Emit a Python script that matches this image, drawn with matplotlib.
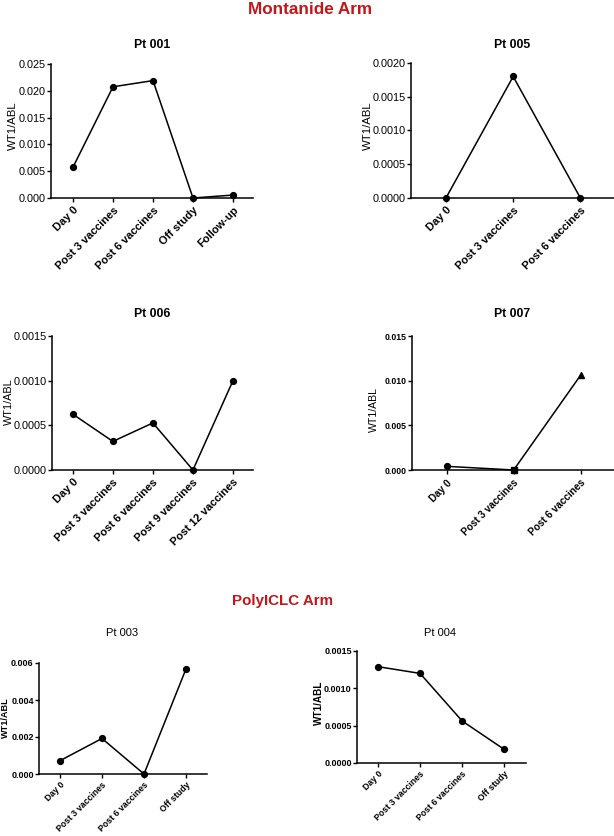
import matplotlib
matplotlib.use("Agg")
import matplotlib.pyplot as plt
from matplotlib.ticker import FixedLocator

plt.rcParams['font.family'] = ['Liberation Sans', 'DejaVu Sans']

W, H = 614, 836

# ---------------- data ----------------
pt001_labels = ["Day 0", "Post 3 vaccines", "Post 6 vaccines", "Off study", "Follow-up"]
pt001_values = [0.00575, 0.02075, 0.0219, 0.0, 0.00055]
pt001_yticks = [0.000, 0.005, 0.010, 0.015, 0.020, 0.025]

pt005_labels = ["Day 0", "Post 3 vaccines", "Post 6 vaccines"]
pt005_values = [0.0, 0.0018, 0.0]
pt005_yticks = [0.0000, 0.0005, 0.0010, 0.0015, 0.0020]

pt006_labels = ["Day 0", "Post 3 vaccines", "Post 6 vaccines", "Post 9 vaccines", "Post 12 vaccines"]
pt006_values = [0.000625, 0.00032, 0.000527, 0.0, 0.0010]
pt006_yticks = [0.0000, 0.0005, 0.0010, 0.0015]

pt007_labels = ["Day 0", "Post 3 vaccines", "Post 6 vaccines"]
pt007_values = [0.00041, 0.0, 0.0106]
pt007_yticks = [0.000, 0.005, 0.010, 0.015]

pt003_labels = ["Day 0", "Post 3 vaccines", "Post 6 vaccines", "Off study"]
pt003_values = [0.00072, 0.00192, 0.0, 0.00568]
pt003_yticks = [0.000, 0.002, 0.004, 0.006]

pt004_labels = ["Day 0", "Post 3 vaccines", "Post 6 vaccines", "Off study"]
pt004_values = [0.00129, 0.0012, 0.000563, 0.000183]
pt004_yticks = [0.0000, 0.0005, 0.0010, 0.0015]

fig = plt.figure(figsize=(W / 100, H / 100), dpi=100)


def px_axes(x0, x1, y0, y1):
    return fig.add_axes([x0 / W, 1 - y1 / H, (x1 - x0) / W, (y1 - y0) / H])


def ftext(x, y, s, **kw):
    fig.text(x / W, 1 - y / H, s, ha='center', va='center', **kw)


def panel(box, labels, values, yticks, fmt, xlim, title, title_xy, title_kw,
          ylab_xy, ylab_kw, ytick_kw, xtick_kw, markers=None, xpad=2.5):
    ax = px_axes(*box)
    xs = list(range(len(values)))
    ax.plot(xs, values, color='black', lw=1.1, zorder=2, clip_on=False)
    if markers is None:
        markers = ['o'] * len(values)
    for x, v, m in zip(xs, values, markers):
        ax.plot([x], [v], marker=m, color='black', ms=4.2, ls='none',
                zorder=3, clip_on=False)
    ax.set_xlim(*xlim)
    ax.set_ylim(yticks[0], yticks[-1])
    ax.yaxis.set_major_locator(FixedLocator(yticks))
    ax.set_yticklabels([fmt.format(t) for t in yticks], **ytick_kw)
    ax.set_xticks(xs)
    ax.set_xticklabels(labels, rotation=45, ha='right', rotation_mode='anchor', **xtick_kw)
    for s in ['top', 'right']:
        ax.spines[s].set_visible(False)
    for s in ['left', 'bottom']:
        ax.spines[s].set_linewidth(1.1)
        ax.spines[s].set_color('black')
    ax.tick_params(axis='both', direction='out', length=3, width=1.0, pad=0.8)
    ax.tick_params(axis='x', pad=xpad)
    fig.text(ylab_xy[0] / W, 1 - ylab_xy[1] / H, "WT1/ABL", rotation=90,
             ha='center', va='center', **ylab_kw)
    ftext(title_xy[0], title_xy[1], title, **title_kw)
    ax.patch.set_alpha(0)
    return ax


red = '#C0171B'
ftext(310, 9, "Montanide Arm", fontsize=12.3, fontweight='bold', color=red)
ftext(283, 601, "PolyICLC Arm", fontsize=10.9, fontweight='bold', color=red)

bold_title = dict(fontsize=8.8, fontweight='bold')
reg_ytick = dict(fontsize=7.8)
bold_xtick = dict(fontsize=8.0, fontweight='bold')

panel((51, 253, 64, 198), pt001_labels, pt001_values, pt001_yticks, "{:.3f}",
      (-0.55, 4.5), "Pt 001", (152, 45), bold_title,
      (13, 126), dict(fontsize=8.2), reg_ytick, bold_xtick, xpad=2)

panel((411, 614, 63, 198), pt005_labels, pt005_values, pt005_yticks, "{:.4f}",
      (-0.52, 2.5), "Pt 005", (512, 45), bold_title,
      (368, 126), dict(fontsize=8.2), reg_ytick, bold_xtick, xpad=2)

panel((52, 253, 336, 470), pt006_labels, pt006_values, pt006_yticks, "{:.4f}",
      (-0.52, 4.5), "Pt 006", (152, 314), bold_title,
      (8.5, 402), dict(fontsize=7.8), reg_ytick, bold_xtick, xpad=2)

panel((412, 614, 336, 470), pt007_labels, pt007_values, pt007_yticks, "{:.3f}",
      (-0.52, 2.5), "Pt 007", (512, 314), bold_title,
      (373.5, 409), dict(fontsize=7.6), dict(fontsize=6.3, fontweight='bold'),
      dict(fontsize=7.2, fontweight='bold'), markers=['o', 's', '^'], xpad=2.5)

small_ytick = dict(fontsize=6.5, fontweight='bold')
small_xtick = dict(fontsize=6.3, fontweight='bold')
panel((39, 207, 663, 774), pt003_labels, pt003_values, pt003_yticks, "{:.3f}",
      (-0.5, 3.5), "Pt 003", (122, 633), dict(fontsize=8.0),
      (5, 718), dict(fontsize=6.6, fontweight='bold'), small_ytick, small_xtick, xpad=1.5)

panel((357, 526, 651, 763), pt004_labels, pt004_values, pt004_yticks, "{:.4f}",
      (-0.5, 3.52), "Pt 004", (440, 633), dict(fontsize=8.0),
      (318.5, 703), dict(fontsize=7.2, fontweight='bold'), small_ytick, small_xtick, xpad=1.5)

fig.savefig("out.png", dpi=100, facecolor='white')
